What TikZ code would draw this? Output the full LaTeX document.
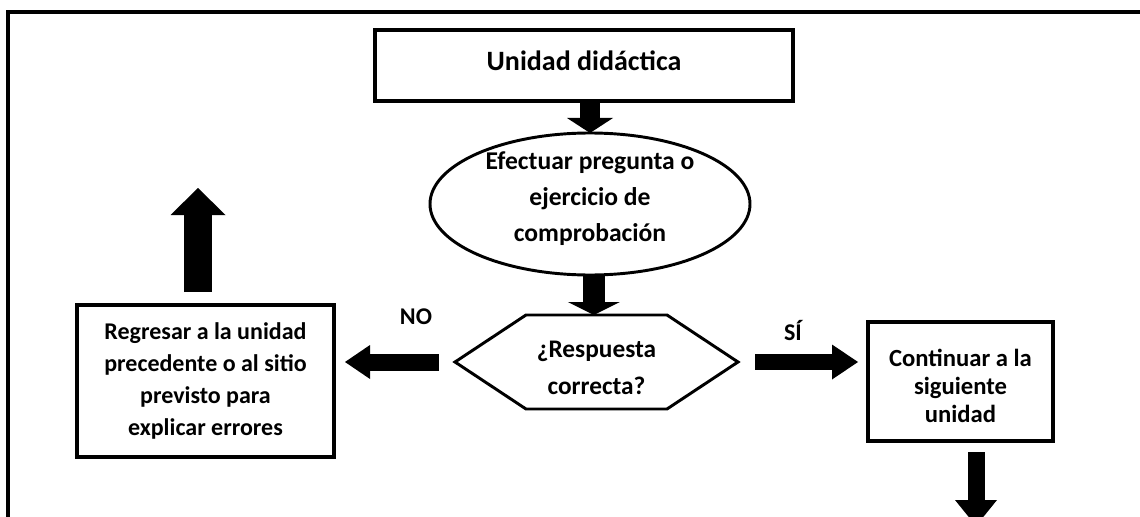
\documentclass[tikz,border=0pt]{standalone}
\usepackage{fontspec}
\setmainfont{Carlito}
\usetikzlibrary{shapes.geometric,arrows.meta}
\begin{document}
\begin{tikzpicture}[x=0.75pt,y=-0.75pt,
  frame/.style={line width=3pt},
  rectbox/.style={draw,rectangle,line width=2.6pt,outer sep=0pt,inner sep=0pt,align=center},
  ellbox/.style={draw,ellipse,line width=2.2pt,outer sep=0pt,inner sep=0pt},
  txt/.style={align=center,inner sep=0pt,outer sep=0pt},
  blk/.style args={#1/#2/#3}{line width=#1,-{Triangle[width=#2,length=#3,line width=0pt]}},
]
\useasboundingbox (0,0) rectangle (1140,517);
\clip (0,0) rectangle (1140,517);
\draw[frame] (1160,12) -- (8,12) -- (8,540);

\node[rectbox,minimum width=313.5pt,minimum height=53.25pt,font=\bfseries\fontsize{21}{25}\selectfont] (top) at (584,65.5) {\raisebox{7pt}{Unidad didáctica}};

\node[ellbox,minimum width=240pt,minimum height=106.5pt] (ell) at (590,204) {};
\node[txt,font=\bfseries\fontsize{19.2}{27}\selectfont] (ellt) at ([yshift=4pt]ell.center) {Efectuar pregunta o\\ejercicio de\\comprobación};

\node[minimum width=212.25pt,minimum height=70.5pt,inner sep=0pt,outer sep=0pt] (hex) at (596.5,362) {};
\draw[line width=2.2pt,line join=miter] (hex.west) -- ([xshift=53.25pt]hex.north west) -- ([xshift=-53.25pt]hex.north east) -- (hex.east) -- ([xshift=-53.25pt]hex.south east) -- ([xshift=53.25pt]hex.south west) -- cycle;
\node[txt,font=\bfseries\fontsize{19}{28}\selectfont] (hext) at ([yshift=-4.5pt]hex.center) {¿Respuesta\\correcta?};

\node[rectbox,minimum width=192.75pt,minimum height=114pt,font=\bfseries\fontsize{18}{24}\selectfont] (left) at (205.5,381) {Regresar a la unidad\\precedente o al sitio\\previsto para\\explicar errores};

\node[rectbox,minimum width=138.75pt,minimum height=89.25pt] (right) at (960.5,381.5) {};
\node[txt,font=\bfseries\fontsize{18.5}{21}\selectfont] (rightt) at ([yshift=-3pt]right.center) {Continuar a la\\siguiente\\unidad};

\node[txt,font=\bfseries\fontsize{18}{22}\selectfont] (no) at (416,317) {NO};
\node[txt,font=\bfseries\fontsize{18}{22}\selectfont] (si) at (793,331) {SÍ};

\coordinate (upend) at (198,188);
\coordinate (downend) at (976,526);

\draw[blk=15pt/34.5pt/11.25pt] (ell.north |- top.south) -- (ell.north);
\draw[blk=16.5pt/39pt/9.75pt] ([xshift=-2pt]hex.north |- ell.south) -- ([xshift=-2pt]hex.north);
\draw[blk=12.75pt/25.5pt/18.75pt, shorten <=12pt, shorten >=8.25pt] (hex.west) -- (left.east |- hex.west);
\draw[blk=12pt/26.25pt/19.5pt, shorten <=12.75pt, shorten >=7.5pt] (hex.east) -- (right.west |- hex.east);
\draw[blk=21pt/41.25pt/20.25pt, shorten <=9.75pt] (upend |- left.north) -- (upend);
\draw[blk=12.75pt/31.5pt/19.5pt, shorten <=8.25pt] (downend |- right.south) -- (downend);
\end{tikzpicture}
\end{document}
